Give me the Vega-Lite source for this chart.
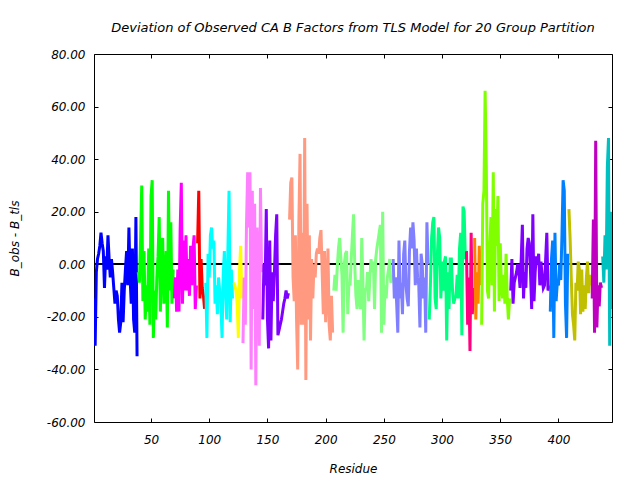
{
  "$schema": "https://vega.github.io/schema/vega-lite/v6.json",
  "width": 518,
  "height": 368,
  "autosize": {"type": "none"},
  "padding": {"left": 94, "top": 54, "right": 28, "bottom": 58},
  "background": "white",
  "title": {"text": "Deviation of Observed CA B Factors from TLS Model for 20 Group Partition", "font": "DejaVu Sans", "fontStyle": "italic", "fontSize": 13, "fontWeight": "normal", "color": "black", "anchor": "middle", "offset": 13},
  "config": {
    "view": {"stroke": "black", "strokeWidth": 1},
    "axis": {"grid": false, "domain": false, "tickColor": "black", "tickWidth": 1, "tickSize": -4, "labelFont": "DejaVu Sans", "labelFontStyle": "italic", "labelFontSize": 12, "labelColor": "black", "titleFont": "DejaVu Sans", "titleFontStyle": "italic", "titleFontSize": 12, "titleFontWeight": "normal", "titleColor": "black"}
  },
  "data": {"values": [
{"r":1,"v":-13,"g":"g01"},{"r":2,"v":-31,"g":"g01"},{"r":3,"v":-3,"g":"g01"},{"r":4,"v":2,"g":"g01"},{"r":5,"v":4,"g":"g01"},{"r":6,"v":7,"g":"g01"},{"r":7,"v":12,"g":"g01"},{"r":8,"v":8,"g":"g01"},{"r":9,"v":5,"g":"g01"},{"r":10,"v":-9,"g":"g01"},{"r":11,"v":3,"g":"g01"},{"r":12,"v":-2,"g":"g01"},{"r":13,"v":11,"g":"g01"},{"r":14,"v":2,"g":"g01"},{"r":15,"v":-5,"g":"g01"},{"r":16,"v":2,"g":"g01"},{"r":17,"v":-3,"g":"g01"},{"r":18,"v":-9,"g":"g01"},{"r":19,"v":-15,"g":"g01"},{"r":20,"v":-10,"g":"g01"},{"r":21,"v":-12,"g":"g01"},{"r":22,"v":-21,"g":"g01"},{"r":23,"v":-26,"g":"g01"},{"r":24,"v":-22,"g":"g01"},{"r":25,"v":-7,"g":"g01"},{"r":26,"v":-22,"g":"g01"},{"r":27,"v":-10,"g":"g01"},{"r":28,"v":-2,"g":"g01"},{"r":29,"v":5,"g":"g01"},{"r":30,"v":-8,"g":"g01"},{"r":31,"v":14,"g":"g01"},{"r":32,"v":-5,"g":"g01"},{"r":33,"v":-15,"g":"g01"},{"r":34,"v":6,"g":"g01"},{"r":35,"v":-21,"g":"g01"},{"r":36,"v":-26,"g":"g01"},{"r":37,"v":18,"g":"g01"},{"r":38,"v":-35,"g":"g01"},
{"r":39,"v":-3,"g":"g02"},{"r":40,"v":-7,"g":"g02"},{"r":41,"v":9,"g":"g02"},{"r":42,"v":30,"g":"g02"},{"r":43,"v":-14,"g":"g02"},{"r":44,"v":5,"g":"g02"},{"r":45,"v":-21,"g":"g02"},{"r":46,"v":-8,"g":"g02"},{"r":47,"v":-18,"g":"g02"},{"r":48,"v":6,"g":"g02"},{"r":49,"v":-23,"g":"g02"},{"r":50,"v":26,"g":"g02"},{"r":51,"v":32,"g":"g02"},{"r":52,"v":-28,"g":"g02"},{"r":53,"v":-10,"g":"g02"},{"r":54,"v":-21,"g":"g02"},{"r":55,"v":-5,"g":"g02"},{"r":56,"v":3,"g":"g02"},{"r":57,"v":18,"g":"g02"},{"r":58,"v":-18,"g":"g02"},{"r":59,"v":8,"g":"g02"},{"r":60,"v":10,"g":"g02"},{"r":61,"v":-15,"g":"g02"},{"r":62,"v":-5,"g":"g02"},{"r":63,"v":5,"g":"g02"},{"r":64,"v":-24,"g":"g02"},{"r":65,"v":28,"g":"g02"},{"r":66,"v":-10,"g":"g02"},{"r":67,"v":16,"g":"g02"},{"r":68,"v":-15,"g":"g02"},{"r":69,"v":-2,"g":"g02"},
{"r":70,"v":-13,"g":"g03"},{"r":71,"v":-5,"g":"g03"},{"r":72,"v":-18,"g":"g03"},{"r":73,"v":-2,"g":"g03"},{"r":74,"v":-18,"g":"g03"},{"r":75,"v":13,"g":"g03"},{"r":76,"v":31,"g":"g03"},{"r":77,"v":-15,"g":"g03"},{"r":78,"v":9,"g":"g03"},{"r":79,"v":-10,"g":"g03"},{"r":80,"v":11,"g":"g03"},{"r":81,"v":-10,"g":"g03"},{"r":82,"v":2,"g":"g03"},{"r":83,"v":-12,"g":"g03"},{"r":84,"v":7,"g":"g03"},{"r":85,"v":-8,"g":"g03"},{"r":86,"v":6,"g":"g03"},{"r":87,"v":11,"g":"g03"},{"r":88,"v":-17,"g":"g03"},{"r":89,"v":-8,"g":"g03"},
{"r":90,"v":8,"g":"g04"},{"r":91,"v":28,"g":"g04"},{"r":92,"v":-13,"g":"g04"},{"r":93,"v":2,"g":"g04"},{"r":94,"v":-9,"g":"g04"},{"r":95,"v":-12,"g":"g04"},{"r":96,"v":-17,"g":"g04"},
{"r":97,"v":-7,"g":"g05"},{"r":98,"v":-28,"g":"g05"},{"r":99,"v":4,"g":"g05"},{"r":100,"v":-5,"g":"g05"},{"r":101,"v":11,"g":"g05"},{"r":102,"v":14,"g":"g05"},{"r":103,"v":6,"g":"g05"},{"r":104,"v":9,"g":"g05"},{"r":105,"v":-15,"g":"g05"},{"r":106,"v":-8,"g":"g05"},{"r":107,"v":-19,"g":"g05"},{"r":108,"v":-5,"g":"g05"},{"r":109,"v":-10,"g":"g05"},{"r":110,"v":-15,"g":"g05"},{"r":111,"v":-28,"g":"g05"},{"r":112,"v":-4,"g":"g05"},{"r":113,"v":5,"g":"g05"},{"r":114,"v":-10,"g":"g05"},{"r":115,"v":-21,"g":"g05"},{"r":116,"v":5,"g":"g05"},{"r":117,"v":28,"g":"g05"},{"r":118,"v":-22,"g":"g05"},{"r":119,"v":-2,"g":"g05"},{"r":120,"v":-13,"g":"g05"},
{"r":121,"v":-7,"g":"g06"},{"r":122,"v":-8,"g":"g06"},{"r":123,"v":-10,"g":"g06"},{"r":124,"v":-15,"g":"g06"},{"r":125,"v":-28,"g":"g06"},{"r":126,"v":-2,"g":"g06"},{"r":127,"v":7,"g":"g06"},{"r":128,"v":-13,"g":"g06"},
{"r":129,"v":-30,"g":"g07"},{"r":130,"v":-5,"g":"g07"},{"r":131,"v":-23,"g":"g07"},{"r":132,"v":15,"g":"g07"},{"r":133,"v":35,"g":"g07"},{"r":134,"v":14,"g":"g07"},{"r":135,"v":35,"g":"g07"},{"r":136,"v":-40,"g":"g07"},{"r":137,"v":28,"g":"g07"},{"r":138,"v":-17,"g":"g07"},{"r":139,"v":23,"g":"g07"},{"r":140,"v":-46,"g":"g07"},{"r":141,"v":14,"g":"g07"},{"r":142,"v":1,"g":"g07"},{"r":143,"v":-31,"g":"g07"},{"r":144,"v":29,"g":"g07"},{"r":145,"v":-3,"g":"g07"},
{"r":146,"v":-21,"g":"g08"},{"r":147,"v":0,"g":"g08"},{"r":148,"v":-8,"g":"g08"},{"r":149,"v":21,"g":"g08"},{"r":150,"v":-21,"g":"g08"},{"r":151,"v":-32,"g":"g08"},{"r":152,"v":9,"g":"g08"},{"r":153,"v":-29,"g":"g08"},{"r":154,"v":-3,"g":"g08"},{"r":155,"v":-14,"g":"g08"},{"r":156,"v":-3,"g":"g08"},{"r":157,"v":11,"g":"g08"},{"r":158,"v":19,"g":"g08"},{"r":159,"v":-27,"g":"g08"},{"r":160,"v":-25,"g":"g08"},{"r":161,"v":-23,"g":"g08"},{"r":162,"v":-21,"g":"g08"},{"r":163,"v":-18,"g":"g08"},{"r":164,"v":-15,"g":"g08"},{"r":165,"v":-13,"g":"g08"},{"r":166,"v":-10,"g":"g08"},{"r":167,"v":-13,"g":"g08"},{"r":168,"v":-11,"g":"g08"},
{"r":169,"v":17,"g":"g09"},{"r":170,"v":31,"g":"g09"},{"r":171,"v":33,"g":"g09"},{"r":172,"v":-5,"g":"g09"},{"r":173,"v":-14,"g":"g09"},{"r":174,"v":11,"g":"g09"},{"r":175,"v":-21,"g":"g09"},{"r":176,"v":-40,"g":"g09"},{"r":177,"v":16,"g":"g09"},{"r":178,"v":42,"g":"g09"},{"r":179,"v":-23,"g":"g09"},{"r":180,"v":12,"g":"g09"},{"r":181,"v":-23,"g":"g09"},{"r":182,"v":48,"g":"g09"},{"r":183,"v":-44,"g":"g09"},{"r":184,"v":23,"g":"g09"},{"r":185,"v":-21,"g":"g09"},{"r":186,"v":11,"g":"g09"},{"r":187,"v":-29,"g":"g09"},{"r":188,"v":2,"g":"g09"},{"r":189,"v":-13,"g":"g09"},{"r":190,"v":0,"g":"g09"},{"r":191,"v":-5,"g":"g09"},{"r":192,"v":4,"g":"g09"},{"r":193,"v":6,"g":"g09"},{"r":194,"v":4,"g":"g09"},{"r":195,"v":10,"g":"g09"},{"r":196,"v":13,"g":"g09"},{"r":197,"v":-3,"g":"g09"},{"r":198,"v":-19,"g":"g09"},{"r":199,"v":5,"g":"g09"},{"r":200,"v":-22,"g":"g09"},{"r":201,"v":-10,"g":"g09"},{"r":202,"v":6,"g":"g09"},{"r":203,"v":-23,"g":"g09"},{"r":204,"v":-29,"g":"g09"},{"r":205,"v":-12,"g":"g09"},{"r":206,"v":-26,"g":"g09"},
{"r":207,"v":-10,"g":"g10"},{"r":208,"v":-4,"g":"g10"},{"r":209,"v":-10,"g":"g10"},{"r":210,"v":-1,"g":"g10"},{"r":211,"v":6,"g":"g10"},{"r":212,"v":10,"g":"g10"},{"r":213,"v":3,"g":"g10"},{"r":214,"v":-4,"g":"g10"},{"r":215,"v":-26,"g":"g10"},{"r":216,"v":0,"g":"g10"},{"r":217,"v":4,"g":"g10"},{"r":218,"v":5,"g":"g10"},{"r":219,"v":-19,"g":"g10"},{"r":220,"v":-7,"g":"g10"},{"r":221,"v":-8,"g":"g10"},{"r":222,"v":2,"g":"g10"},{"r":223,"v":11,"g":"g10"},{"r":224,"v":19,"g":"g10"},{"r":225,"v":0,"g":"g10"},{"r":226,"v":-12,"g":"g10"},{"r":227,"v":-17,"g":"g10"},{"r":228,"v":-6,"g":"g10"},{"r":229,"v":-13,"g":"g10"},{"r":230,"v":-17,"g":"g10"},{"r":231,"v":10,"g":"g10"},{"r":232,"v":-6,"g":"g10"},{"r":233,"v":-29,"g":"g10"},{"r":234,"v":-9,"g":"g10"},{"r":235,"v":-10,"g":"g10"},{"r":236,"v":-3,"g":"g10"},{"r":237,"v":-14,"g":"g10"},{"r":238,"v":-5,"g":"g10"},{"r":239,"v":2,"g":"g10"},{"r":240,"v":-3,"g":"g10"},{"r":241,"v":1,"g":"g10"},{"r":242,"v":-17,"g":"g10"},{"r":243,"v":2,"g":"g10"},{"r":244,"v":6,"g":"g10"},{"r":245,"v":9,"g":"g10"},{"r":246,"v":12,"g":"g10"},{"r":247,"v":15,"g":"g10"},{"r":248,"v":-26,"g":"g10"},{"r":249,"v":20,"g":"g10"},{"r":250,"v":-23,"g":"g10"},{"r":251,"v":-8,"g":"g10"},{"r":252,"v":-13,"g":"g10"},{"r":253,"v":-5,"g":"g10"},{"r":254,"v":-2,"g":"g10"},{"r":255,"v":2,"g":"g10"},{"r":256,"v":-7,"g":"g10"},{"r":257,"v":-4,"g":"g10"},
{"r":258,"v":2,"g":"g11"},{"r":259,"v":-13,"g":"g11"},{"r":260,"v":-5,"g":"g11"},{"r":261,"v":-15,"g":"g11"},{"r":262,"v":-26,"g":"g11"},{"r":263,"v":9,"g":"g11"},{"r":264,"v":-13,"g":"g11"},{"r":265,"v":-7,"g":"g11"},{"r":266,"v":-19,"g":"g11"},{"r":267,"v":4,"g":"g11"},{"r":268,"v":9,"g":"g11"},{"r":269,"v":-8,"g":"g11"},{"r":270,"v":-13,"g":"g11"},{"r":271,"v":-16,"g":"g11"},{"r":272,"v":5,"g":"g11"},{"r":273,"v":14,"g":"g11"},{"r":274,"v":6,"g":"g11"},{"r":275,"v":16,"g":"g11"},{"r":276,"v":9,"g":"g11"},{"r":277,"v":-8,"g":"g11"},{"r":278,"v":6,"g":"g11"},{"r":279,"v":-5,"g":"g11"},{"r":280,"v":-8,"g":"g11"},{"r":281,"v":-24,"g":"g11"},{"r":282,"v":4,"g":"g11"},{"r":283,"v":0,"g":"g11"},{"r":284,"v":-13,"g":"g11"},{"r":285,"v":-5,"g":"g11"},{"r":286,"v":-26,"g":"g11"},{"r":287,"v":16,"g":"g11"},{"r":288,"v":0,"g":"g11"},
{"r":289,"v":-21,"g":"g12"},{"r":290,"v":-8,"g":"g12"},{"r":291,"v":10,"g":"g12"},{"r":292,"v":16,"g":"g12"},{"r":293,"v":18,"g":"g12"},{"r":294,"v":-13,"g":"g12"},{"r":295,"v":-17,"g":"g12"},{"r":296,"v":4,"g":"g12"},{"r":297,"v":14,"g":"g12"},{"r":298,"v":10,"g":"g12"},{"r":299,"v":-13,"g":"g12"},{"r":300,"v":1,"g":"g12"},{"r":301,"v":-10,"g":"g12"},{"r":302,"v":1,"g":"g12"},{"r":303,"v":3,"g":"g12"},{"r":304,"v":-29,"g":"g12"},{"r":305,"v":-3,"g":"g12"},{"r":306,"v":-17,"g":"g12"},{"r":307,"v":2,"g":"g12"},{"r":308,"v":2,"g":"g12"},{"r":309,"v":-10,"g":"g12"},{"r":310,"v":-15,"g":"g12"},{"r":311,"v":-13,"g":"g12"},{"r":312,"v":-12,"g":"g12"},{"r":313,"v":-4,"g":"g12"},{"r":314,"v":-13,"g":"g12"},{"r":315,"v":6,"g":"g12"},{"r":316,"v":12,"g":"g12"},{"r":317,"v":-27,"g":"g12"},{"r":318,"v":22,"g":"g12"},{"r":319,"v":20,"g":"g12"},{"r":320,"v":2,"g":"g12"},
{"r":321,"v":5,"g":"g13"},{"r":322,"v":-23,"g":"g13"},{"r":323,"v":-5,"g":"g13"},{"r":324,"v":-33,"g":"g13"},{"r":325,"v":12,"g":"g13"},{"r":326,"v":-19,"g":"g13"},{"r":327,"v":-9,"g":"g13"},
{"r":328,"v":10,"g":"g14"},{"r":329,"v":-21,"g":"g14"},{"r":330,"v":-3,"g":"g14"},{"r":331,"v":-15,"g":"g14"},{"r":332,"v":7,"g":"g14"},{"r":333,"v":-8,"g":"g14"},
{"r":334,"v":-23,"g":"g15"},{"r":335,"v":23,"g":"g15"},{"r":336,"v":28,"g":"g15"},{"r":337,"v":66,"g":"g15"},{"r":338,"v":38,"g":"g15"},{"r":339,"v":-10,"g":"g15"},{"r":340,"v":-13,"g":"g15"},{"r":341,"v":6,"g":"g15"},{"r":342,"v":18,"g":"g15"},{"r":343,"v":-8,"g":"g15"},{"r":344,"v":35,"g":"g15"},{"r":345,"v":-18,"g":"g15"},{"r":346,"v":21,"g":"g15"},{"r":347,"v":7,"g":"g15"},{"r":348,"v":26,"g":"g15"},{"r":349,"v":-14,"g":"g15"},{"r":350,"v":8,"g":"g15"},{"r":351,"v":-8,"g":"g15"},{"r":352,"v":-13,"g":"g15"},{"r":353,"v":-4,"g":"g15"},{"r":354,"v":-15,"g":"g15"},{"r":355,"v":4,"g":"g15"},{"r":356,"v":-13,"g":"g15"},{"r":357,"v":-21,"g":"g15"},{"r":358,"v":-13,"g":"g15"},
{"r":359,"v":-10,"g":"g16"},{"r":360,"v":2,"g":"g16"},{"r":361,"v":-15,"g":"g16"},{"r":362,"v":-7,"g":"g16"},{"r":363,"v":-5,"g":"g16"},{"r":364,"v":-3,"g":"g16"},{"r":365,"v":0,"g":"g16"},{"r":366,"v":-3,"g":"g16"},{"r":367,"v":-9,"g":"g16"},{"r":368,"v":2,"g":"g16"},{"r":369,"v":15,"g":"g16"},{"r":370,"v":-13,"g":"g16"},{"r":371,"v":-3,"g":"g16"},{"r":372,"v":-9,"g":"g16"},{"r":373,"v":6,"g":"g16"},{"r":374,"v":10,"g":"g16"},{"r":375,"v":8,"g":"g16"},{"r":376,"v":-3,"g":"g16"},{"r":377,"v":-17,"g":"g16"},{"r":378,"v":19,"g":"g16"},{"r":379,"v":-14,"g":"g16"},{"r":380,"v":-3,"g":"g16"},{"r":381,"v":3,"g":"g16"},{"r":382,"v":0,"g":"g16"},{"r":383,"v":4,"g":"g16"},{"r":384,"v":-8,"g":"g16"},{"r":385,"v":1,"g":"g16"},{"r":386,"v":-5,"g":"g16"},{"r":387,"v":-9,"g":"g16"},{"r":388,"v":-8,"g":"g16"},{"r":389,"v":2,"g":"g16"},{"r":390,"v":12,"g":"g16"},{"r":391,"v":-10,"g":"g16"},{"r":392,"v":-8,"g":"g16"},
{"r":393,"v":-18,"g":"g17"},{"r":394,"v":2,"g":"g17"},{"r":395,"v":9,"g":"g17"},{"r":396,"v":-28,"g":"g17"},{"r":397,"v":12,"g":"g17"},{"r":398,"v":-14,"g":"g17"},{"r":399,"v":-7,"g":"g17"},{"r":400,"v":-8,"g":"g17"},{"r":401,"v":0,"g":"g17"},{"r":402,"v":-6,"g":"g17"},{"r":403,"v":11,"g":"g17"},{"r":404,"v":32,"g":"g17"},{"r":405,"v":28,"g":"g17"},{"r":406,"v":-15,"g":"g17"},{"r":407,"v":-28,"g":"g17"},{"r":408,"v":4,"g":"g17"},
{"r":409,"v":21,"g":"g18"},{"r":410,"v":10,"g":"g18"},{"r":411,"v":-5,"g":"g18"},{"r":412,"v":-19,"g":"g18"},{"r":413,"v":-23,"g":"g18"},{"r":414,"v":-29,"g":"g18"},{"r":415,"v":-7,"g":"g18"},{"r":416,"v":-10,"g":"g18"},{"r":417,"v":1,"g":"g18"},{"r":418,"v":-2,"g":"g18"},{"r":419,"v":-19,"g":"g18"},{"r":420,"v":-2,"g":"g18"},{"r":421,"v":-18,"g":"g18"},{"r":422,"v":-8,"g":"g18"},{"r":423,"v":-17,"g":"g18"},{"r":424,"v":-5,"g":"g18"},{"r":425,"v":1,"g":"g18"},{"r":426,"v":-11,"g":"g18"},{"r":427,"v":-4,"g":"g18"},{"r":428,"v":-8,"g":"g18"},
{"r":429,"v":-13,"g":"g19"},{"r":430,"v":17,"g":"g19"},{"r":431,"v":-26,"g":"g19"},{"r":432,"v":47,"g":"g19"},{"r":433,"v":-24,"g":"g19"},{"r":434,"v":-8,"g":"g19"},{"r":435,"v":-16,"g":"g19"},{"r":436,"v":-7,"g":"g19"},{"r":437,"v":-9,"g":"g19"},
{"r":438,"v":3,"g":"g20"},{"r":439,"v":-7,"g":"g20"},{"r":440,"v":11,"g":"g20"},{"r":441,"v":-2,"g":"g20"},{"r":442,"v":37,"g":"g20"},{"r":443,"v":48,"g":"g20"},{"r":444,"v":-31,"g":"g20"},{"r":445,"v":20,"g":"g20"},{"r":446,"v":-17,"g":"g20"}
  ]},
  "layer": [
    {
      "mark": {"type": "rule", "color": "black", "strokeWidth": 1},
      "encoding": {
        "x": {"datum": 1, "type": "quantitative", "axis": {"orient": "top", "values": [50,100,150,200,250,300,350,400], "labels": false, "title": null}},
        "x2": {"datum": 446},
        "y": {"datum": 0, "type": "quantitative", "axis": {"orient": "right", "values": [-60,-40,-20,0,20,40,60,80], "labels": false, "title": null}}
      }
    },
    {
      "mark": {"type": "line", "strokeWidth": 3, "clip": true},
      "encoding": {
        "x": {"field": "r", "type": "quantitative", "scale": {"domain": [1, 446], "nice": false, "zero": false},
              "axis": {"orient": "bottom", "values": [50,100,150,200,250,300,350,400], "labelPadding": 16, "title": "Residue", "titleX": 259, "titleY": 46, "titleBaseline": "middle", "titleAlign": "center"}},
        "y": {"field": "v", "type": "quantitative", "scale": {"domain": [-60, 80], "nice": false, "zero": false},
              "axis": {"orient": "left", "values": [-60,-40,-20,0,20,40,60,80], "labelPadding": 13, "labelExpr": "replace(format(datum.value, '.2f'), '\u2212', '-')", "title": "B_obs - B_tls", "titleX": -80, "titleY": 184, "titleAngle": -90, "titleBaseline": "middle", "titleAlign": "center"}},
        "color": {"field": "g", "type": "nominal", "legend": null,
                  "scale": {"domain": ["g01","g02","g03","g04","g05","g06","g07","g08","g09","g10","g11","g12","g13","g14","g15","g16","g17","g18","g19","g20"],
                            "range": ["#0000ff","#00ff00","#ff00ff","#ff0000","#00ffff","#ffff00","#ff80ff","#8000ff","#ff9980","#80ff80","#8080ff","#00ff80","#ff0080","#ff8000","#80ff00","#8000ff","#0080ff","#c0c000","#c000c0","#00c0c0"]}},
        "order": {"field": "r", "type": "quantitative"}
      }
    }
  ],
  "resolve": {"axis": {"x": "independent", "y": "independent"}}
}
